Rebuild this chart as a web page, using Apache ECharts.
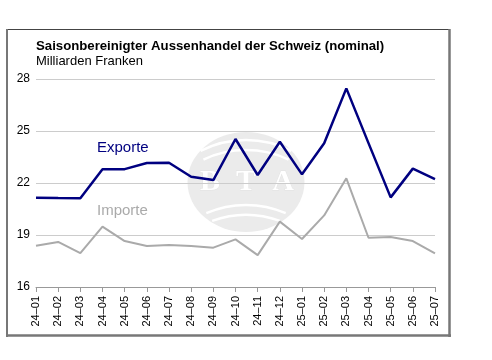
<!DOCTYPE html>
<html><head><meta charset="utf-8">
<script src="https://cdn.jsdelivr.net/npm/echarts@6/dist/echarts.min.js"></script>
<style>html,body{margin:0;padding:0;background:#fff}#c{width:492px;height:360px}</style>
</head><body><div id="c"></div>
<script>
var categories = ['24–01','24–02','24–03','24–04','24–05','24–06','24–07','24–08','24–09','24–10','24–11','24–12','25–01','25–02','25–03','25–04','25–05','25–06','25–07'];
var exporte = [21.15,21.13,21.12,22.79,22.8,23.15,23.17,22.36,22.17,24.54,22.46,24.38,22.5,24.29,27.46,24.3,21.17,22.83,22.23];
var importe = [18.38,18.6,17.96,19.48,18.65,18.36,18.42,18.36,18.27,18.75,17.84,19.77,18.77,20.13,22.27,18.84,18.88,18.65,17.94];
var yTicks = [16,19,22,25,28];
var titleText = 'Saisonbereinigter Aussenhandel der Schweiz (nominal)';
var subText = 'Milliarden Franken';
var font = 'Liberation Sans, Arial, sans-serif';

var cx = 246, cy = 182;
function arc(ycen, r, a0, a1) {
  return {type:'arc', shape:{cx:cx, cy:ycen, r:r, startAngle:Math.PI*a0, endAngle:Math.PI*a1},
          style:{stroke:'#fff', lineWidth:2.5, fill:null}, z:-9};
}
function letter(t, x) {
  return {type:'text', x:x, y:cy, style:{text:t, fill:'#fff', stroke:'#e2e2e2', lineWidth:0.8,
          font:'bold 30px "Liberation Serif", serif', align:'center', verticalAlign:'middle'}, z:-8};
}

var chart = echarts.init(document.getElementById('c'), null, {renderer:'canvas'});
chart.setOption({
  animation: false,
  backgroundColor: '#fff',
  title: {
    text: titleText, subtext: subText, left: 31, top: 35, itemGap: 2,
    textStyle: {fontFamily: font, fontSize: 13.2, fontWeight: 'bold', color: '#000'},
    subtextStyle: {fontFamily: font, fontSize: 13, color: '#000'}
  },
  graphic: [
    {type:'group', z: -10, silent: true, children: [
      {type:'circle', shape:{cx:0, cy:0, r:50}, x:cx, y:cy, scaleX:1.17, scaleY:1, style:{fill:'#ebebeb'}, z: -10},
      arc(240, 100, 1.35, 1.65),
      arc(250, 100, 1.36, 1.64),
      arc(305, 100, 1.37, 1.63),
      arc(315, 100, 1.39, 1.61),
      letter('B', 210), letter('T', 246), letter('A', 283)
    ]},
    {type:'line', shape:{x1:7, y1:29.5, x2:450, y2:29.5}, style:{stroke:'#444', lineWidth:1}},
    {type:'line', shape:{x1:7, y1:29, x2:7, y2:337}, style:{stroke:'#777', lineWidth:2}},
    {type:'line', shape:{x1:449.5, y1:29, x2:449.5, y2:337}, style:{stroke:'#777', lineWidth:2.5}},
    {type:'line', shape:{x1:6, y1:335.5, x2:451, y2:335.5}, style:{stroke:'#777', lineWidth:2.5}},
    {type:'text', left:97, top:140, style:{text:'Exporte', fill:'#000080', font:'15px '+font}},
    {type:'text', left:97, top:203, style:{text:'Importe', fill:'#aaaaaa', font:'15px '+font}}
  ],
  grid: {left: 36, right: 57, top: 79, bottom: 73, containLabel: false},
  xAxis: {
    type: 'category', data: categories, boundaryGap: false,
    axisLine: {lineStyle: {color: '#999'}},
    axisTick: {show: true, length: 5, lineStyle: {color: '#999'}},
    axisLabel: {rotate: 90, fontSize: 11, color: '#000', fontFamily: font, margin: 9, interval: 0},
    splitLine: {show: false}
  },
  yAxis: {
    type: 'value', min: yTicks[0], max: yTicks[yTicks.length-1], interval: 3,
    axisLine: {show: false}, axisTick: {show: false},
    axisLabel: {fontSize: 12, color: '#000', fontFamily: font, margin: 6},
    splitLine: {lineStyle: {color: '#cccccc', width: 1}}
  },
  series: [
    {name:'Importe', type:'line', data: importe, symbol:'none', lineStyle:{color:'#aaaaaa', width:2}, z: 3},
    {name:'Exporte', type:'line', data: exporte, symbol:'none', lineStyle:{color:'#000080', width:2.5}, z: 4}
  ]
});
</script></body></html>
